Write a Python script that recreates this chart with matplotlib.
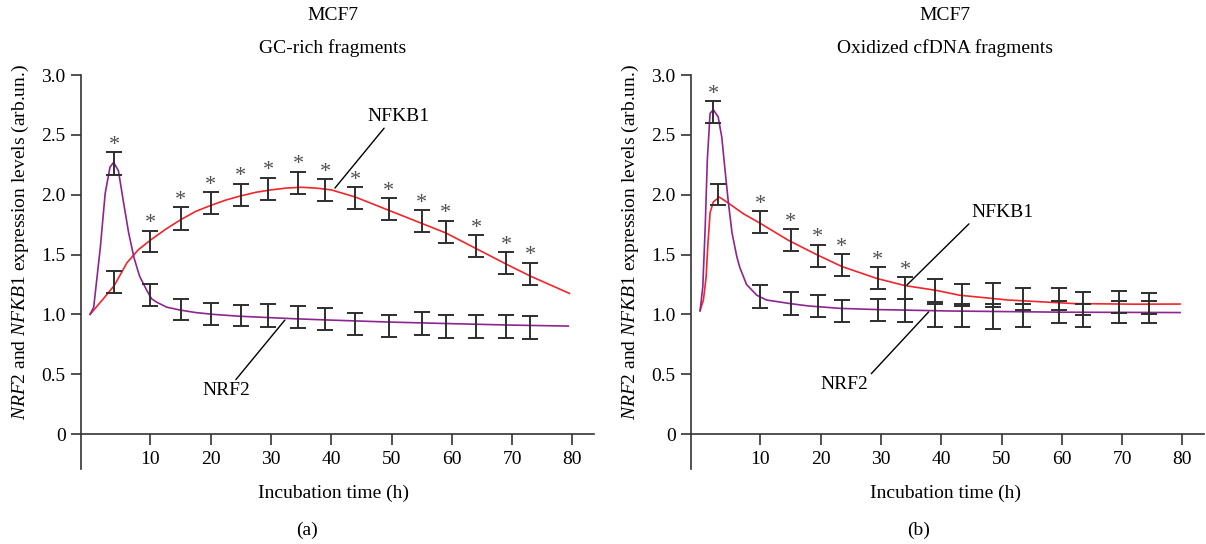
import matplotlib
matplotlib.use('Agg')
import matplotlib.pyplot as plt

plt.rcParams['font.family'] = ['Liberation Serif', 'DejaVu Serif']
plt.rcParams['mathtext.fontset'] = 'custom'
plt.rcParams['mathtext.rm'] = 'Liberation Serif'
plt.rcParams['mathtext.it'] = 'Liberation Serif:italic'

# ---- panel (a): GC-rich fragments ----
t_a = [4, 10, 15, 20, 25, 29.5, 34.5, 39, 44, 49.5, 55, 59, 64, 69, 73]
nfkb_a = [1.27, 1.61, 1.80, 1.93, 2.00, 2.05, 2.10, 2.04, 1.97, 1.88, 1.78, 1.69, 1.57, 1.43, 1.34]
nfkb_a_err = [0.09, 0.09, 0.093, 0.093, 0.092, 0.093, 0.093, 0.093, 0.093, 0.093, 0.093, 0.093, 0.093, 0.093, 0.093]
nfkb_a_star = [0, 1, 1, 1, 1, 1, 1, 1, 1, 1, 1, 1, 1, 1, 1]
nrf2_a = [2.26, 1.16, 1.04, 1.00, 0.99, 0.99, 0.98, 0.96, 0.92, 0.90, 0.92, 0.90, 0.90, 0.90, 0.89]
nrf2_a_err = [0.095, 0.09, 0.09, 0.093, 0.09, 0.093, 0.093, 0.093, 0.095, 0.093, 0.096, 0.096, 0.096, 0.096, 0.095]
nrf2_a_star = [1, 0, 0, 0, 0, 0, 0, 0, 0, 0, 0, 0, 0, 0, 0]

curve_a_nfkb_x = [0, 2.2, 4, 6.1, 8, 10, 12.5, 15, 17.5, 20, 22.5, 25, 27.5, 30, 32.5, 35,
                  37.5, 40, 44, 49.5, 55, 59, 64, 69, 73, 79.5]
curve_a_nfkb_y = [1.0, 1.13, 1.24, 1.43, 1.54, 1.62, 1.71, 1.79, 1.86, 1.91, 1.955, 1.99, 2.02,
                  2.04, 2.055, 2.062, 2.055, 2.04, 1.98, 1.87, 1.76, 1.68, 1.55, 1.42, 1.32, 1.175]
curve_a_nrf2_x = [0, 0.6, 1.7, 2.5, 3.3, 3.9, 4.7, 5.5, 6.4, 7.3, 8.2, 9.4, 10.2, 11.1, 12.7,
                  14.9, 17.5, 20.4, 24.5, 28.7, 34, 39.8, 50, 60, 70, 79.3]
curve_a_nrf2_y = [1.0, 1.06, 1.56, 2.01, 2.23, 2.27, 2.20, 1.95, 1.68, 1.47, 1.32, 1.20, 1.13,
                  1.10, 1.06, 1.036, 1.015, 1.0, 0.985, 0.975, 0.963, 0.952, 0.935, 0.922, 0.91, 0.902]

# ---- panel (b): oxidized cfDNA fragments ----
t_b_nfkb = [3, 10, 15, 19.5, 23.5, 29.5, 34, 39, 43.5, 48.5, 53.5, 59.5, 63.5, 69.5, 74.5]
nfkb_b = [2.00, 1.77, 1.62, 1.49, 1.41, 1.30, 1.22, 1.20, 1.16, 1.16, 1.13, 1.13, 1.09, 1.10, 1.09]
nfkb_b_err = [0.09, 0.09, 0.093, 0.093, 0.093, 0.092, 0.09, 0.093, 0.092, 0.1, 0.092, 0.093, 0.093, 0.092, 0.09]
nfkb_b_star = [0, 1, 1, 1, 1, 1, 1, 0, 0, 0, 0, 0, 0, 0, 0]
t_b_nrf2 = [2.2, 10, 15, 19.5, 23.5, 29.5, 34, 39, 43.5, 48.5, 53.5, 59.5, 63.5, 69.5, 74.5]
nrf2_b = [2.69, 1.15, 1.09, 1.07, 1.03, 1.04, 1.03, 0.99, 0.99, 0.98, 0.99, 1.02, 0.99, 1.02, 1.02]
nrf2_b_err = [0.09, 0.093, 0.093, 0.093, 0.09, 0.092, 0.095, 0.093, 0.098, 0.103, 0.097, 0.093, 0.096, 0.092, 0.092]
nrf2_b_star = [1, 0, 0, 0, 0, 0, 0, 0, 0, 0, 0, 0, 0, 0, 0]

curve_b_nfkb_x = [0, 0.55, 1.0, 1.3, 1.66, 2.2, 3.2, 4.4, 7.2, 10, 14.6, 19.3, 23.5, 29.3,
                  34, 39.2, 43, 51, 62, 72, 79.6]
curve_b_nfkb_y = [1.03, 1.12, 1.31, 1.59, 1.85, 1.94, 1.98, 1.94, 1.84, 1.76, 1.62, 1.50, 1.40,
                  1.30, 1.24, 1.20, 1.16, 1.12, 1.09, 1.085, 1.086]
curve_b_nrf2_x = [0, 0.45, 0.85, 1.2, 1.66, 2.2, 3.0, 3.6, 4.15, 4.7, 5.3, 6.1, 6.6, 7.7, 9.4,
                  11, 14.9, 18, 23.2, 29.3, 41.5, 60, 79.6]
curve_b_nrf2_y = [1.03, 1.23, 1.73, 2.29, 2.68, 2.71, 2.65, 2.48, 2.2, 1.93, 1.68, 1.48, 1.39,
                  1.25, 1.16, 1.12, 1.09, 1.07, 1.05, 1.04, 1.028, 1.018, 1.015]

red = '#f2252b'
purple = '#8e2490'
bar_col = '#2e2e2e'
fs = 14

fig = plt.figure(figsize=(12.06, 5.44), dpi=100)


def setup(ax):
    ax.set_xlim(-1.5, 83.5)
    ax.set_ylim(-0.29, 3.0)
    for s in ['top', 'right']:
        ax.spines[s].set_visible(False)
    ax.spines['bottom'].set_position(('data', 0))
    for s in ['left', 'bottom']:
        ax.spines[s].set_linewidth(1.2)
        ax.spines[s].set_color('#333333')
    ax.set_xticks([10, 20, 30, 40, 50, 60, 70, 80])
    ax.set_yticks([0, 0.5, 1.0, 1.5, 2.0, 2.5, 3.0])
    ax.set_yticklabels(['0', '0.5', '1.0', '1.5', '2.0', '2.5', '3.0'])
    ax.tick_params(axis='both', labelsize=fs, width=1.2, color='#333333')
    ax.tick_params(axis='y', length=7, pad=4)
    ax.tick_params(axis='x', length=8, pad=4)
    ax.set_ylabel(r'$\mathit{NRF2}$ and $\mathit{NFKB1}$ expression levels (arb.un.)', fontsize=fs)
    ax.yaxis.set_label_coords(-0.098, 0.575)


def bars(ax, t, y, err, star):
    ax.errorbar(t, y, yerr=err, fmt='none', ecolor=bar_col, elinewidth=1.4,
                capsize=5.5, capthick=1.4, zorder=3)
    for xi, yi, ei, si in zip(t, y, err, star):
        if si:
            ax.annotate('*', xy=(xi, yi + ei), xytext=(0, -2), textcoords='offset points',
                        ha='center', va='bottom', fontsize=16, color='#505050')


def label(ax, text, xy, xytext, relpos):
    ax.annotate(text, xy=xy, xytext=xytext, ha='center', va='center', fontsize=fs,
                arrowprops=dict(arrowstyle='-', color='black', lw=1.0,
                                shrinkA=0, shrinkB=0, relpos=relpos))


# left panel
ax1 = fig.add_axes([0.0672, 0.1384, 0.425, 0.7237])
setup(ax1)
ax1.plot(curve_a_nfkb_x, curve_a_nfkb_y, color=red, lw=1.2, zorder=2)
ax1.plot(curve_a_nrf2_x, curve_a_nrf2_y, color=purple, lw=1.2, zorder=2)
bars(ax1, t_a, nfkb_a, nfkb_a_err, nfkb_a_star)
bars(ax1, t_a, nrf2_a, nrf2_a_err, nrf2_a_star)
label(ax1, 'NFKB1', (40.6, 2.055), (51.2, 2.65), (0.3, 0))
label(ax1, 'NRF2', (32.3, 0.952), (22.6, 0.36), (0.65, 1))

# right panel
ax2 = fig.add_axes([0.573, 0.1384, 0.425, 0.7237])
setup(ax2)
ax2.plot(curve_b_nfkb_x, curve_b_nfkb_y, color=red, lw=1.2, zorder=2)
ax2.plot(curve_b_nrf2_x, curve_b_nrf2_y, color=purple, lw=1.2, zorder=2)
bars(ax2, t_b_nfkb, nfkb_b, nfkb_b_err, nfkb_b_star)
bars(ax2, t_b_nrf2, nrf2_b, nrf2_b_err, nrf2_b_star)
label(ax2, 'NFKB1', (34.3, 1.245), (50.2, 1.85), (0, 0))
label(ax2, 'NRF2', (37.9, 1.02), (24.0, 0.41), (1, 1))

# titles and captions
for xc, sub, cap in [(333, 'GC-rich fragments', '(a)'), (945, 'Oxidized cfDNA fragments', '(b)')]:
    fig.text(xc / 1206, 1 - 15 / 544, 'MCF7', ha='center', va='center', fontsize=fs)
    fig.text(xc / 1206, 1 - 48 / 544, sub, ha='center', va='center', fontsize=fs)
    fig.text(xc / 1206, 1 - 493 / 544, 'Incubation time (h)', ha='center', va='center', fontsize=fs)
    fig.text((xc - 26) / 1206, 1 - 530 / 544, cap, ha='center', va='center', fontsize=fs)

fig.savefig('out.png', dpi=100)
